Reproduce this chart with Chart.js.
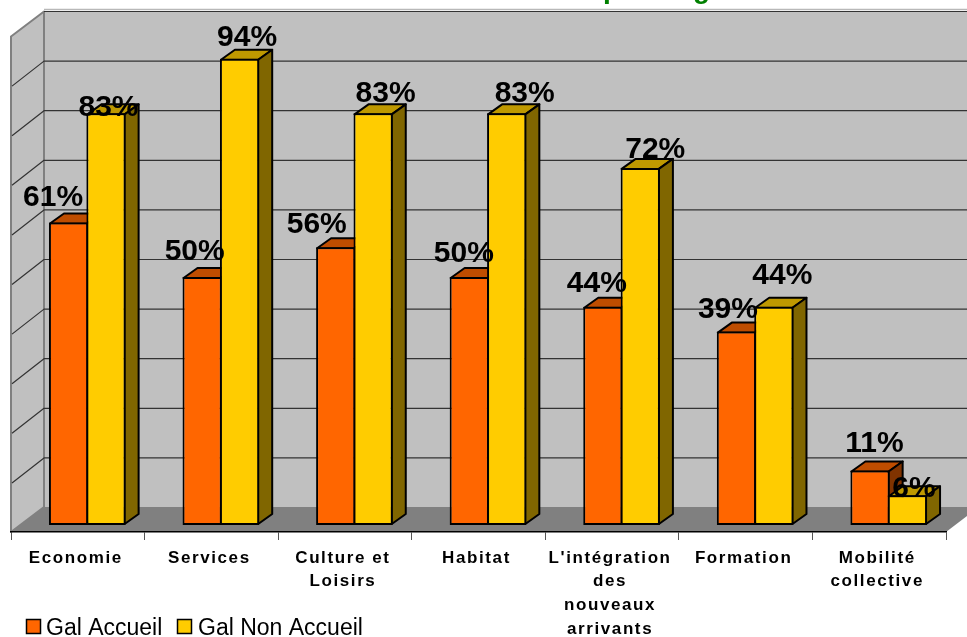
<!DOCTYPE html>
<html><head><meta charset="utf-8">
<style>html,body{margin:0;padding:0;background:#fff}canvas{display:block}</style>
<script src="https://cdn.jsdelivr.net/npm/chart.js@4/dist/chart.umd.min.js"></script>
</head><body><canvas id="c" width="967" height="637"></canvas>
<script>
const categories = [['Economie'],['Services'],['Culture et','Loisirs'],['Habitat'],["L'intégration",'des','nouveaux','arrivants'],['Formation'],['Mobilité','collective']];
const galAccueil = [61,50,56,50,44,39,11];
const galNonAccueil = [83,94,83,83,72,44,6];
const gridValues = [10,20,30,40,50,60,70,80,90,100];
const seriesNames = ['Gal Accueil','Gal Non Accueil'];
// hand-placed data-label nudges in the original: [dx, dy] from the bar's top centre to the baseline
const accueilNudgeX = [-16,-8,-19.5,-6,-6.5,-9,4];
const accueilNudgeY = [-16,-17,-14,-15,-15,-14,-18];
const nonAccueilNudgeX = [2,7,12,17.5,14.5,8,6];
const nonAccueilNudgeY = [3,-13,-11,-11,-10,-23,2];

const C = {
  orange:'#FF6600', orangeTop:'#BF4D00', orangeSide:'#803300',
  yellow:'#FFCC00', yellowTop:'#BF9900', yellowSide:'#806600',
  wall:'#C0C0C0', floor:'#808080', edge:'#808080', grid:'#333333', title:'#008000'
};
const FONT = '"Liberation Sans", Arial, sans-serif';
const barShift = 9.5, barDX = 14, barDY = 10;  // position and depth of the bars
const wallDX = 33, wallDY = 25, gridFront = 7.5; // depth of the walls

function poly(ctx, pts, fill, stroke, lw){
  ctx.beginPath();
  pts.forEach((p,i)=> i ? ctx.lineTo(p[0],p[1]) : ctx.moveTo(p[0],p[1]));
  ctx.closePath();
  if(fill){ctx.fillStyle=fill;ctx.fill();}
  if(stroke){ctx.strokeStyle=stroke;ctx.lineWidth=lw;ctx.lineJoin='round';ctx.stroke();}
}

const walls = {
  id:'walls',
  beforeDraw(chart){
    const {ctx,chartArea:a,scales:{y}} = chart, W = chart.width;
    const L=a.left, B=a.bottom, R=a.right, bx=L+wallDX, by=B-wallDY, top=y.getPixelForValue(100)-(wallDY-gridFront);
    ctx.save();
    // back wall
    poly(ctx,[[bx,top],[W+2,top],[W+2,by],[bx,by]],C.wall);
    // floor
    poly(ctx,[[L,B],[bx,by],[W+2,by],[W+2,B-(W+2-R)*wallDY/wallDX],[R,B]],C.floor);
    // side wall
    poly(ctx,[[L,top+wallDY],[bx,top],[bx,by],[L,B]],C.wall,C.edge,2);
    // top rim
    ctx.strokeStyle='#B8B8B8';ctx.lineWidth=1.5;
    ctx.beginPath();ctx.moveTo(bx,top-2);ctx.lineTo(W,top-2);ctx.stroke();
    // grid lines on side and back walls
    ctx.strokeStyle=C.grid;ctx.lineWidth=1.2;
    gridValues.forEach(v=>{
      const p=y.getPixelForValue(v)-(wallDY-gridFront);
      ctx.beginPath();
      if(v<100){ctx.moveTo(L+1,p+wallDY);ctx.lineTo(bx,p);}else ctx.moveTo(bx,p);
      ctx.lineTo(W,p);ctx.stroke();
    });
    ctx.restore();
    ctx.letterSpacing='1.6px';
  },
  beforeDatasetsDraw(chart){
    chart.ctx.letterSpacing='0px';
  },
  // Chart.js paints the first dataset last; here the second series must lie on top,
  // so the per-dataset pass is skipped and both are painted in afterDatasetsDraw.
  beforeDatasetDraw(){ return false; },
  afterDatasetsDraw(chart){
    const ctx=chart.ctx;
    ctx.save();
    ctx.translate(barShift,0);
    [0,1].forEach(d=>{
      const meta=chart.getDatasetMeta(d), top=d===0?C.orangeTop:C.yellowTop, side=d===0?C.orangeSide:C.yellowSide;
      meta.data.forEach(el=>{
        const l=el.x-el.width/2+1, r=el.x+el.width/2-1, t=el.y+1, b=el.base-1;
        poly(ctx,[[l,t],[l+barDX,t-barDY],[r+barDX,t-barDY],[r,t]],top,'#000',2);
        poly(ctx,[[r,t],[r+barDX,t-barDY],[r+barDX,b-barDY],[r,b]],side,'#000',2);
      });
      meta.controller.draw();
    });
    ctx.restore();
    // data labels
    ctx.save();
    ctx.font='bold 30px '+FONT;ctx.textAlign='center';ctx.textBaseline='alphabetic';ctx.fillStyle='#000';
    const nx=[accueilNudgeX,nonAccueilNudgeX], ny=[accueilNudgeY,nonAccueilNudgeY];
    chart.data.datasets.forEach((ds,d)=>{
      chart.getDatasetMeta(d).data.forEach((el,i)=>{
        ctx.fillText(ds.data[i]+'%',el.x+10+nx[d][i],el.y+ny[d][i]);
      });
    });
    // title, cut off by the top of the picture: only these descenders are legible
    ctx.font='bold 28px '+FONT;ctx.fillStyle=C.title;ctx.textAlign='left';
    ctx.fillText('p',603,-2);
    ctx.fillText('g',693,-2);
    // legend
    ctx.font='23px '+FONT;
    const items=[[26,46],[177,198]];
    chart.data.datasets.forEach((ds,d)=>{
      ctx.fillStyle=ds.backgroundColor;
      ctx.fillRect(items[d][0]+.5,619.5,14,14);
      ctx.strokeStyle='#000';ctx.lineWidth=1.5;ctx.strokeRect(items[d][0]+.5,619.5,14,14);
      ctx.fillStyle='#000';
      ctx.fillText(ds.label,items[d][1],635);
    });
    ctx.restore();
  }
};

new Chart(document.getElementById('c'),{
  type:'bar',
  data:{labels:categories,datasets:[
    {label:seriesNames[0],data:galAccueil,backgroundColor:C.orange},
    {label:seriesNames[1],data:galNonAccueil,backgroundColor:C.yellow}
  ]},
  options:{
    responsive:false,animation:false,
    layout:{padding:{left:11,right:21,top:29,bottom:0}},
    datasets:{bar:{categoryPercentage:0.56,barPercentage:1.05,borderColor:'#000',borderWidth:2,borderSkipped:false}},
    plugins:{legend:{display:false},title:{display:false},tooltip:{enabled:false}},
    scales:{
      x:{
        afterFit(s){s.height=105;},
        offset:true,
        border:{color:'#000',width:1.5},
        grid:{drawOnChartArea:false,tickLength:8,color:'#555'},
        ticks:{autoSkip:false,maxRotation:0,minRotation:0,padding:6,labelOffset:-2,color:'#000',
          font:{family:FONT,size:17,weight:'bold',lineHeight:1.4}}
      },
      y:{display:false,min:-1.41,max:100}
    }
  },
  plugins:[walls]
});
</script></body></html>
